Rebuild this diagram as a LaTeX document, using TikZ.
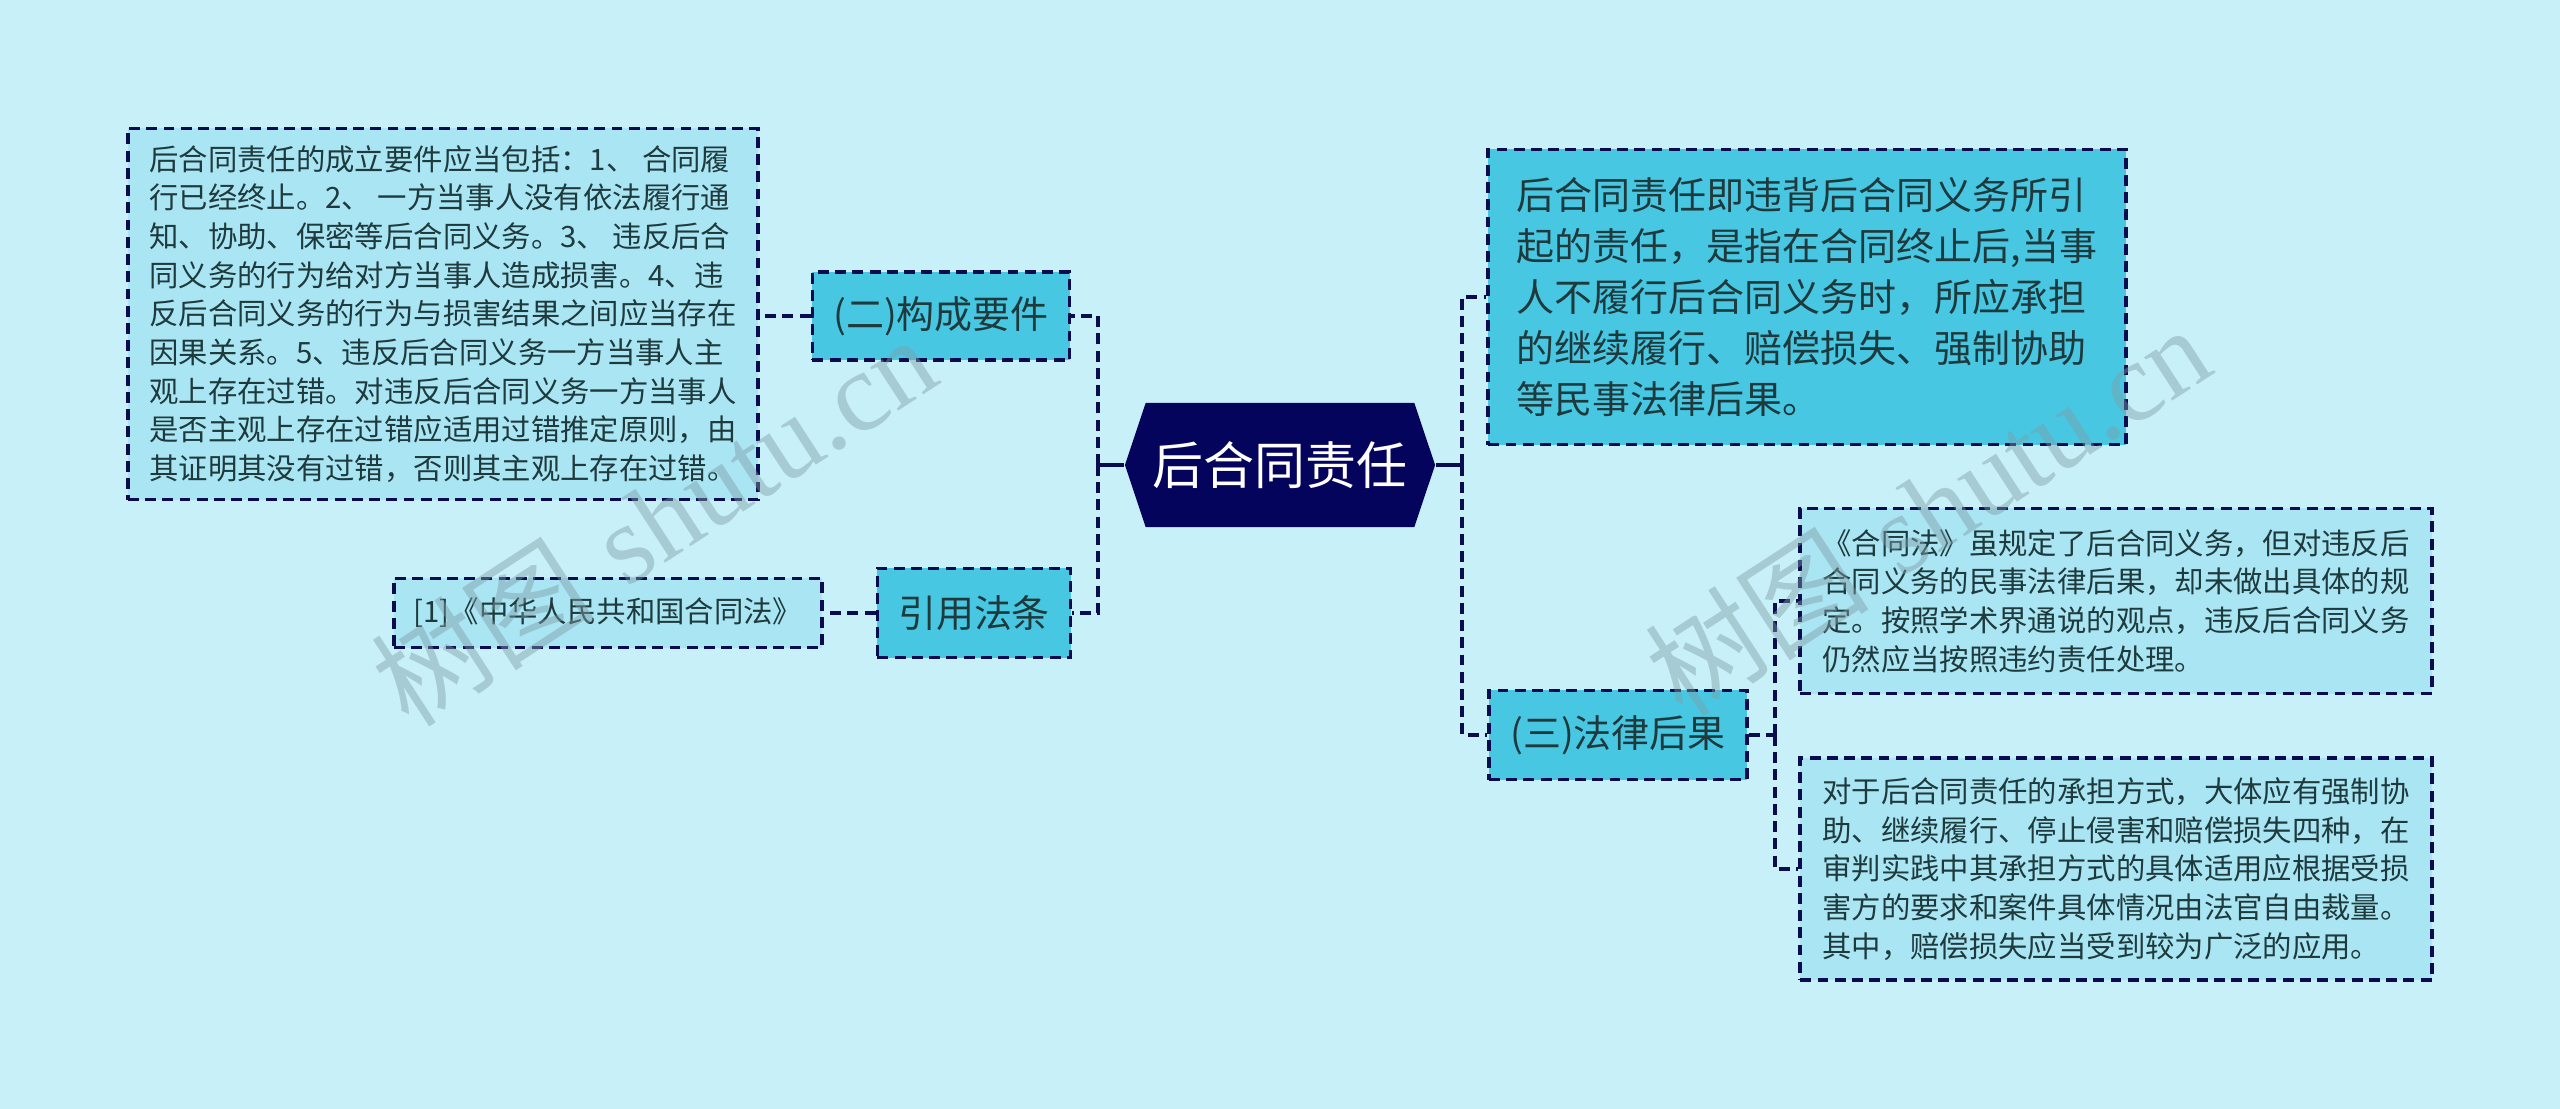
\documentclass[tikz,border=0pt]{standalone}
\usepackage{fontspec}
\newfontfamily\cjk{Noto Sans CJK SC}
\newfontfamily\markserif{Liberation Serif}
\usetikzlibrary{positioning,shapes.symbols}
\definecolor{mapBgFill}{HTML}{C8F0F8}
\definecolor{mapNavyLine}{HTML}{0B0B50}
\definecolor{mapRootFill}{HTML}{04045C}
\definecolor{mapMidFill}{HTML}{48C7E3}
\definecolor{mapLeafFill}{HTML}{A9E5F3}
\definecolor{mapTextGrey}{HTML}{1F3A3D}
\definecolor{mapMarkGrey}{HTML}{7E9EA6}

\tikzset{
  dashline/.style={draw=mapNavyLine, line width=1.05pt, dash pattern=on 3.1pt off 1.8pt},
  solidline/.style={draw=mapNavyLine, line width=1.05pt},
  rootbox/.style={signal, signal to=west and east, signal pointer angle=143,
    fill=mapRootFill, text=white, inner sep=0pt,
    minimum width=3.1cm, minimum height=1.24cm,
    font=\cjk\fontsize{14.5}{16}\selectfont},
  midbox/.style={rectangle, dashline, fill=mapMidFill, text=mapTextGrey,
    inner sep=0pt, align=left, font=\cjk\fontsize{10.8}{14.5}\selectfont},
  leafbox/.style={rectangle, dashline, fill=mapLeafFill, text=mapTextGrey,
    inner sep=0pt, align=left, font=\cjk\fontsize{8.35}{11}\selectfont},
  markstyle/.style={text=mapMarkGrey, opacity=0.45, rotate=33,
    font=\fontsize{32}{32}\selectfont}
}

\begin{document}
\begin{tikzpicture}[x=0.01cm, y=-0.01cm]

% --- CANVAS ---
\fill[mapBgFill] (0,0) rectangle (2560,1109);
\useasboundingbox (0,0) rectangle (2560,1109);

% --- ROOT ---
\node[rootbox] (root) at (1280,465) {后合同责任};

% --- LEFT BRANCHES ---
\node[midbox, minimum width=2.57cm, minimum height=0.88cm]
  (build) at (941,316) {(二)构成要件};
\node[midbox, minimum width=1.93cm, minimum height=0.89cm]
  (cite) at (974,613) {引用法条};
\node[leafbox, minimum width=6.30cm, minimum height=3.71cm]
  (buildtext) at (443,314) {%
  后合同责任的成立要件应当包括：1、 合同履\\
  行已经终止。2、 一方当事人没有依法履行通\\
  知、协助、保密等后合同义务。3、 违反后合\\
  同义务的行为给对方当事人造成损害。4、违\\
  反后合同义务的行为与损害结果之间应当存在\\
  因果关系。5、违反后合同义务一方当事人主\\
  观上存在过错。对违反后合同义务一方当事人\\
  是否主观上存在过错应适用过错推定原则，由\\
  其证明其没有过错，否则其主观上存在过错。};
\node[leafbox, minimum width=4.28cm, minimum height=0.69cm]
  (citetext) at (608,613) {[1]《中华人民共和国合同法》};

% --- RIGHT BRANCHES ---
\node[midbox, minimum width=6.37cm, minimum height=2.95cm]
  (define) at (1807,297) {%
  后合同责任即违背后合同义务所引\\
  起的责任，是指在合同终止后,当事\\
  人不履行后合同义务时，所应承担\\
  的继续履行、赔偿损失、强制协助\\
  等民事法律后果。};
\node[midbox, minimum width=2.58cm, minimum height=0.89cm]
  (result) at (1618,735) {(三)法律后果};
\node[leafbox, minimum width=6.31cm, minimum height=1.85cm]
  (resultone) at (2116,601) {%
  《合同法》虽规定了后合同义务，但对违反后\\
  合同义务的民事法律后果，却未做出具体的规\\
  定。按照学术界通说的观点，违反后合同义务\\
  仍然应当按照违约责任处理。};
\node[leafbox, minimum width=6.31cm, minimum height=2.22cm]
  (resulttwo) at (2116,869) {%
  对于后合同责任的承担方式，大体应有强制协\\
  助、继续履行、停止侵害和赔偿损失四种，在\\
  审判实践中其承担方式的具体适用应根据受损\\
  害方的要求和案件具体情况由法官自由裁量。\\
  其中，赔偿损失应当受到较为广泛的应用。};

% --- CONNECTORS ---
\coordinate (leftbus) at (1098,465);
\coordinate (rightbus) at (1462,465);
\coordinate (resultbus) at (1775,735);
\draw[solidline] (root.west) -- (leftbus);
\draw[dashline] (leftbus) |- (build.east);
\draw[dashline] (leftbus) |- (cite.east);
\draw[dashline] (build.west) -- (build.west -| buildtext.east);
\draw[dashline] (cite.west) -- (citetext.east);
\draw[solidline] (root.east) -- (rightbus);
\draw[dashline] (rightbus) |- (define.west);
\draw[dashline] (rightbus) |- (result.west);
\draw[dashline] (result.east) -- (resultbus);
\draw[dashline] (resultbus) |- (resultone.west);
\draw[dashline] (resultbus) |- (resulttwo.west);

% --- WATERMARKS ---
\foreach \mx/\my [count=\mi] in {653/520, 1927/510} {
  \node[markstyle] (mark\mi) at (\mx,\my) {{\cjk 树图} {\markserif shutu.cn}};
}

\end{tikzpicture}
\end{document}
